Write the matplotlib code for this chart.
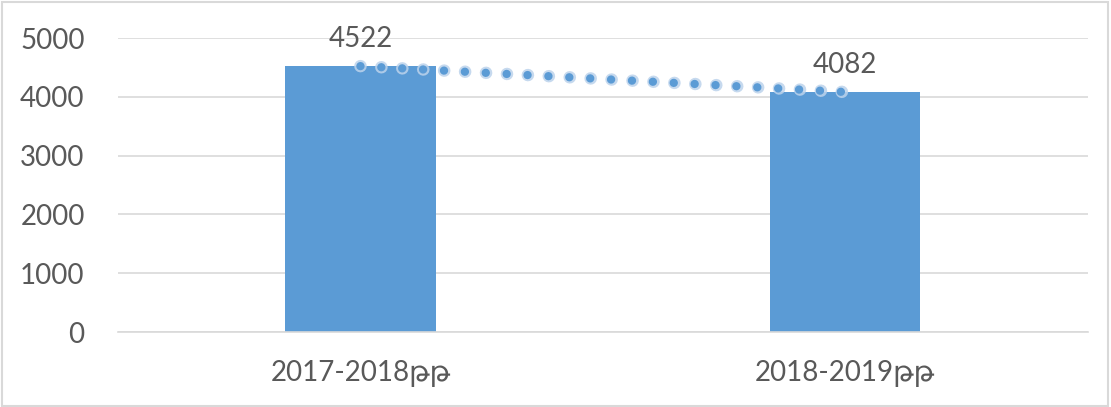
import matplotlib.pyplot as plt
import numpy as np

categories = ["2017-2018թթ", "2018-2019թթ"]
values = [4522, 4082]
yticks = [0, 1000, 2000, 3000, 4000, 5000]

textColor = "#595959"
barColor = "#5b9bd5"
fontList = ["Lato", "DejaVu Sans"]

fig = plt.figure(figsize=(11.11, 4.07), dpi=100)
ax = fig.add_axes([0.1062, 0.184, 0.8728, 0.7226])

x = np.arange(len(categories))
ax.bar(x, values, width=0.31, color=barColor, zorder=2)

# trend line (dotted, with soft glow), same dash period of 15pt
ax.plot(x, values, color="#bcd3ec", linewidth=9, dashes=[0.01, 15 / 9],
        dash_capstyle="round", alpha=0.85, zorder=3)
ax.plot(x, values, color=barColor, linewidth=6, dashes=[0.01, 15 / 6],
        dash_capstyle="round", zorder=4)

# data labels
for xi, v in zip(x, values):
    ax.annotate(str(v), (xi, v), xytext=(0, 10), textcoords="offset points",
                ha="center", va="bottom", fontsize=20, color=textColor,
                family=fontList)

ax.set_xlim(-0.5, 1.5)
ax.set_ylim(0, 5000)
ax.set_yticks(yticks)
ax.set_xticks(x)
ax.set_xticklabels(categories, family=fontList)
ax.tick_params(axis="both", length=0, labelsize=20, colors=textColor)
ax.tick_params(axis="x", pad=20)
ax.tick_params(axis="y", pad=24)
for lbl in ax.get_yticklabels():
    lbl.set_family(fontList)

ax.grid(axis="y", color="#d9d9d9", linewidth=1.2, zorder=0)
ax.set_axisbelow(True)
for side in ["top", "right", "left"]:
    ax.spines[side].set_visible(False)
ax.spines["bottom"].set_color("#d9d9d9")
ax.spines["bottom"].set_linewidth(1.2)

# outer chart border
fig.patches.append(plt.Rectangle((0.002, 0.003), 0.995, 0.993, transform=fig.transFigure,
                                 fill=False, edgecolor="#d9d9d9", linewidth=1.5))

fig.savefig("out.png", dpi=100)
